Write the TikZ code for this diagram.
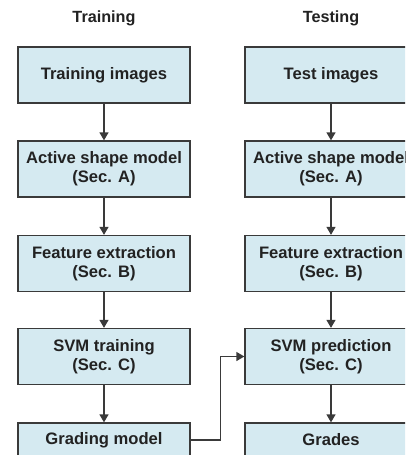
\documentclass[tikz,border=0pt]{standalone}
\usepackage{fontspec}
\setmainfont{Liberation Sans}
\usetikzlibrary{arrows.meta}
\definecolor{boxfill}{HTML}{D5EAF1}
\definecolor{boxline}{HTML}{3A3A3A}
\definecolor{txt}{HTML}{222222}
\begin{document}
\begin{tikzpicture}[x=1pt,y=-1pt,
  stepbox/.style={draw=boxline, fill=boxfill, line width=1.3pt, minimum width=172pt,
    minimum height=56pt, inner sep=0pt, align=center, text=txt,
    font=\bfseries\fontsize{16.6}{19}\selectfont},
  title/.style={text=txt, font=\bfseries\fontsize{16.2}{19}\selectfont, inner sep=0pt},
  arr/.style={draw=boxline, line width=1.3pt, -{Triangle[length=8pt,width=9pt]}}]
\useasboundingbox (0,0) rectangle (405,455);
\clip (0,0) rectangle (405,455);
\node[title] (t1) at (104,18) {Training};
\node[title] (t2) at (331,18) {Testing};
\node[stepbox] (l1) at (104,75) {Training images};
\node[stepbox] (l2) at (104,169) {Active shape model\\(Sec. A)};
\node[stepbox] (l3) at (104,263.5) {Feature extraction\\(Sec. B)};
\node[stepbox] (l4) at (104,356.5) {SVM training\\(Sec. C)};
\node[stepbox, minimum height=34pt] (l5) at (104,440) {Grading model};
\node[stepbox] (r1) at (331,75) {Test images};
\node[stepbox] (r2) at (331,169) {Active shape model\\(Sec. A)};
\node[stepbox] (r3) at (331,263.5) {Feature extraction\\(Sec. B)};
\node[stepbox] (r4) at (331,356.5) {SVM prediction\\(Sec. C)};
\node[stepbox, minimum height=34pt] (r5) at (331,440) {Grades};
\draw[arr] (l1) -- (l2);
\draw[arr] (l2) -- (l3);
\draw[arr] (l3) -- (l4);
\draw[arr] (l4) -- (l5);
\draw[arr] (r1) -- (r2);
\draw[arr] (r2) -- (r3);
\draw[arr] (r3) -- (r4);
\draw[arr] (r4) -- (r5);
\draw[arr] (l5.east) -- ++(30,0) |- (r4.west);
\end{tikzpicture}
\end{document}
